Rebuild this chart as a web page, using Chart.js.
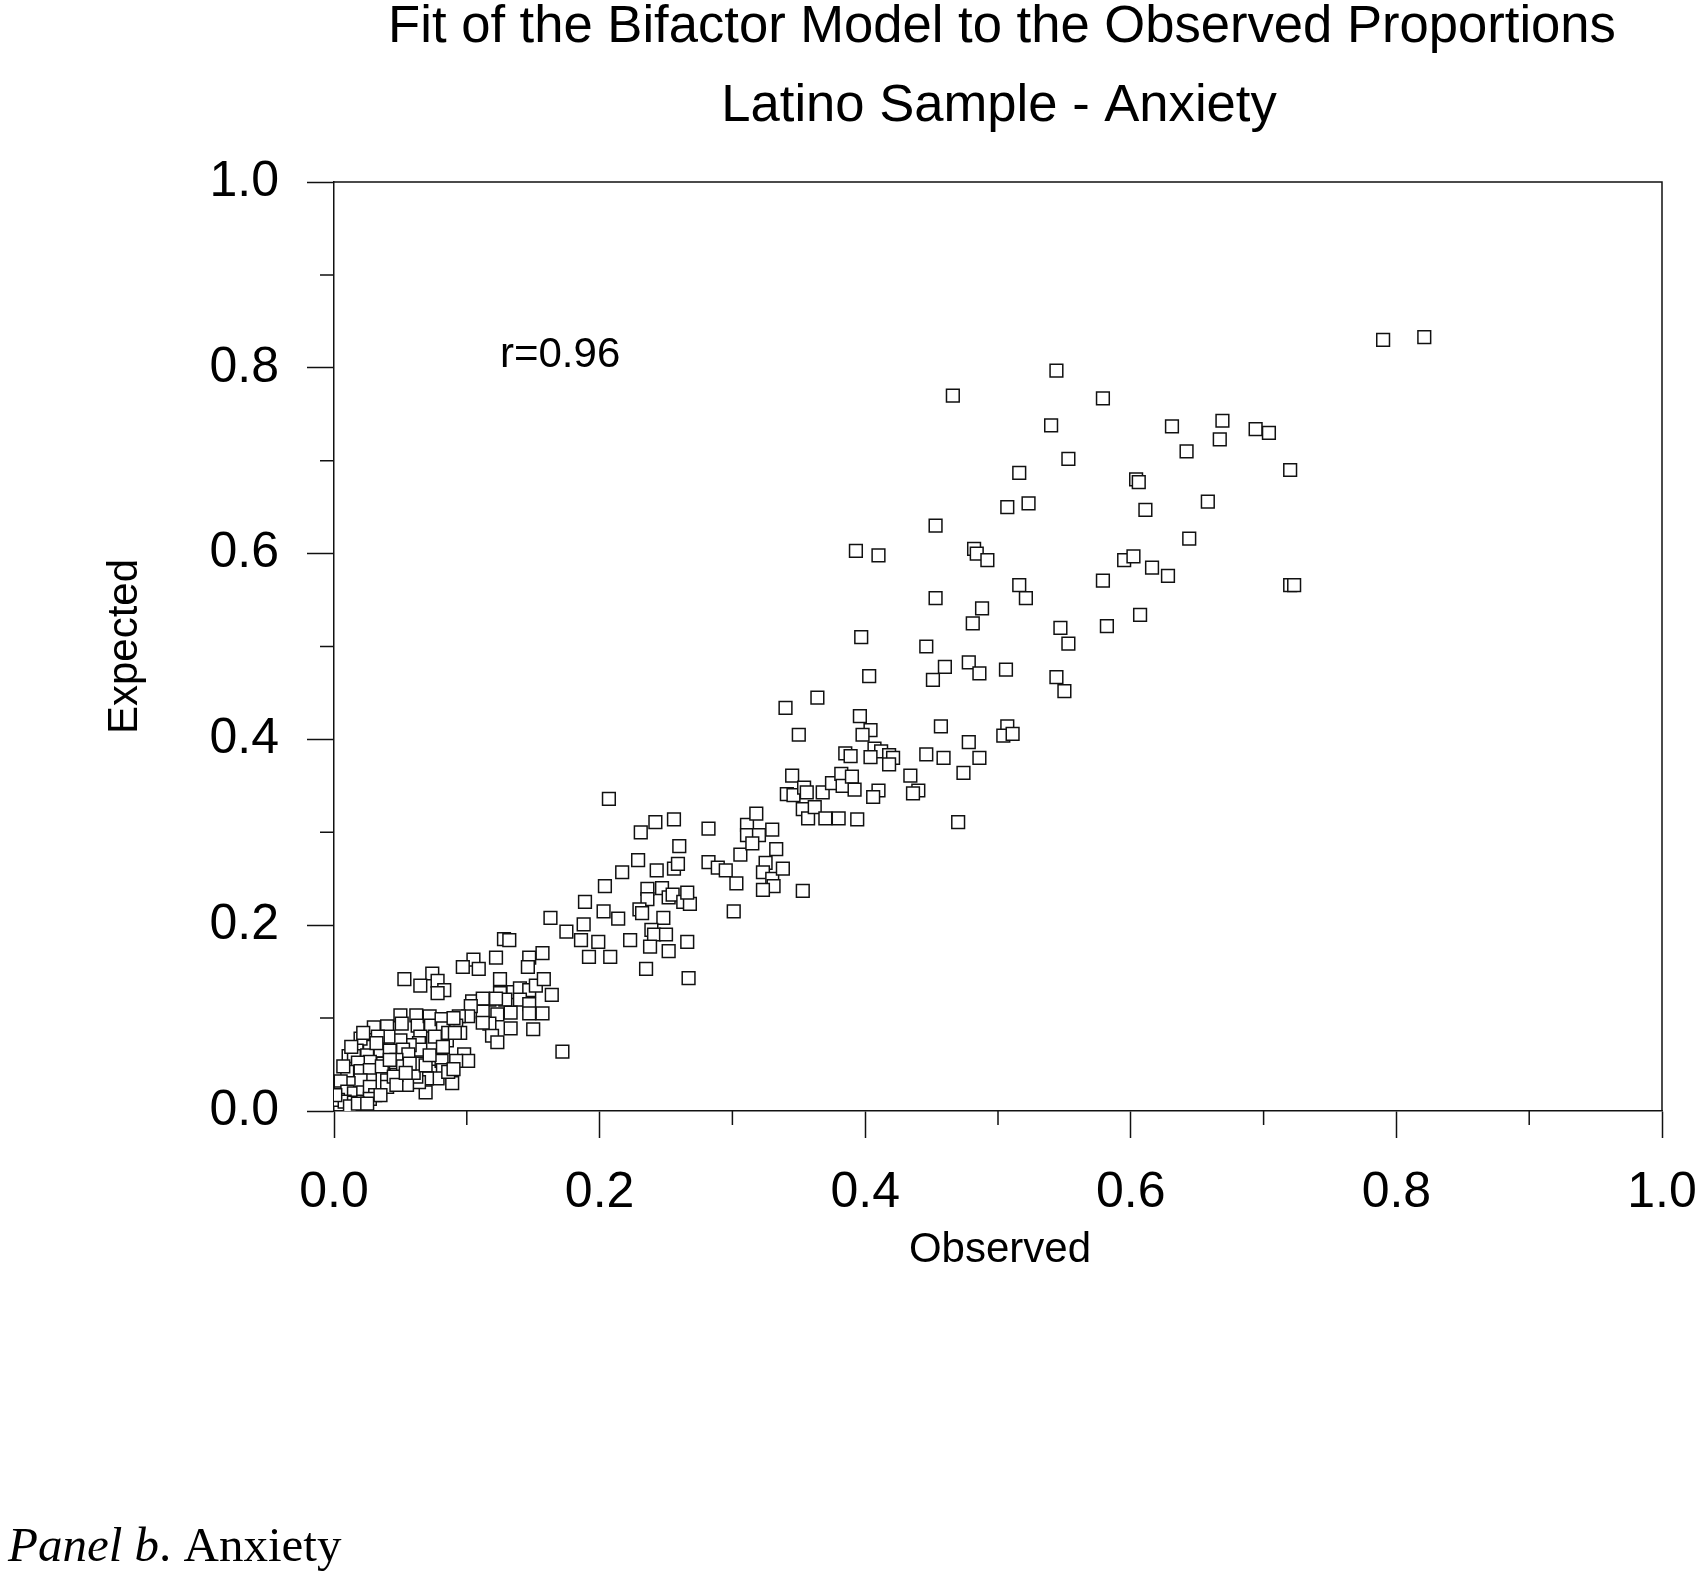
<!DOCTYPE html>
<html>
<head>
<meta charset="utf-8">
<script src="https://cdn.jsdelivr.net/npm/chart.js@4.4.1/dist/chart.umd.min.js"></script>
<style>
  html, body { margin: 0; padding: 0; background: #fff; overflow: hidden; }
  #wrap { position: relative; width: 1698px; height: 1576px; }
</style>
</head>
<body>
<div id="wrap"><canvas id="myChart"></canvas></div>
<script>
// observed proportion (x) and model-expected proportion (y), one entry per item response
let observed = [
  0.790, 0.821,
  0.544, 0.466, 0.579, 0.540, 0.631, 0.669, 0.667, 0.694, 0.704, 0.642, 0.553, 0.516, 0.720, 0.604, 0.606,
  0.507, 0.523, 0.611, 0.658, 0.453, 0.644, 0.393, 0.410, 0.482, 0.484, 0.492, 0.595, 0.602, 0.616, 0.628,
  0.516, 0.521, 0.579, 0.720, 0.723, 0.453, 0.488, 0.481, 0.607, 0.582, 0.547, 0.553, 0.397, 0.446,
  0.403, 0.460, 0.451, 0.478, 0.486, 0.506, 0.544, 0.550, 0.364, 0.340, 0.396, 0.350, 0.404, 0.398, 0.457,
  0.507, 0.504, 0.511, 0.478, 0.385, 0.389, 0.407, 0.412, 0.404, 0.418, 0.421, 0.418, 0.446, 0.459, 0.486,
  0.474, 0.434, 0.410, 0.406, 0.440, 0.436, 0.470,
  0.207, 0.231, 0.242, 0.256, 0.260, 0.282, 0.229, 0.217, 0.204, 0.189, 0.203, 0.214, 0.163, 0.188, 0.175,
  0.186, 0.199, 0.192, 0.208, 0.223, 0.243, 0.256, 0.259, 0.236, 0.236, 0.247, 0.252, 0.255, 0.263, 0.268,
  0.266, 0.230, 0.232, 0.248, 0.239, 0.241, 0.250, 0.238, 0.252, 0.266, 0.235, 0.267, 0.282, 0.289, 0.295,
  0.303, 0.301, 0.306, 0.311, 0.311, 0.318, 0.320, 0.315, 0.330, 0.333, 0.325, 0.323, 0.330, 0.338, 0.331,
  0.323, 0.353, 0.345, 0.341, 0.346, 0.354, 0.356, 0.353, 0.357, 0.362, 0.368, 0.370, 0.375, 0.382, 0.383,
  0.390, 0.392, 0.380, 0.394,
  0.128, 0.132, 0.122, 0.105, 0.109, 0.097, 0.147, 0.146, 0.053, 0.074, 0.078, 0.065, 0.083, 0.078, 0.125,
  0.135, 0.125, 0.129, 0.140, 0.147, 0.152, 0.117, 0.122, 0.104, 0.112, 0.140, 0.147, 0.147, 0.133, 0.150,
  0.123, 0.133, 0.117, 0.119, 0.123, 0.112, 0.112, 0.103, 0.101, 0.094, 0.092, 0.095, 0.089, 0.098, 0.101,
  0.075, 0.092, 0.081, 0.082, 0.078, 0.086, 0.090, 0.069, 0.070, 0.064, 0.062, 0.055, 0.060, 0.064, 0.069,
  0.157, 0.158, 0.164, 0.157, 0.172,
  0.030, 0.040, 0.050, 0.051, 0.062, 0.063, 0.072, 0.073, 0.081, 0.082, 0.090, 0.085, 0.076, 0.065, 0.064,
  0.065, 0.057, 0.050, 0.041, 0.033, 0.027, 0.020, 0.017, 0.011, 0.015, 0.025, 0.035, 0.042, 0.052, 0.056,
  0.047, 0.037, 0.027, 0.018, 0.010, 0.020, 0.027, 0.036, 0.040, 0.047, 0.052, 0.057, 0.027, 0.020, 0.011,
  0.005, 0.005, 0.010, 0.015, 0.022, 0.027, 0.031, 0.040, 0.045, 0.003, 0.008, 0.015, 0.022, 0.027, 0.012,
  0.018, 0.025, 0.035, 0.047, 0.054, 0.001, 0.007, 0.013, 0.022, 0.032, 0.042, 0.072, 0.082, 0.086, 0.091
];
let expected = [
  0.830, 0.833,
  0.797, 0.770, 0.767, 0.738, 0.737, 0.743, 0.723, 0.734, 0.730, 0.710, 0.702, 0.687, 0.690, 0.680, 0.677,
  0.650, 0.654, 0.647, 0.656, 0.630, 0.616, 0.603, 0.598, 0.605, 0.600, 0.593, 0.593, 0.597, 0.585, 0.576,
  0.566, 0.552, 0.571, 0.566, 0.566, 0.552, 0.541, 0.525, 0.534, 0.522, 0.520, 0.503, 0.510, 0.500,
  0.468, 0.478, 0.464, 0.483, 0.471, 0.475, 0.467, 0.452, 0.445, 0.434, 0.425, 0.405, 0.410, 0.405, 0.414,
  0.414, 0.404, 0.406, 0.397, 0.385, 0.382, 0.390, 0.387, 0.381, 0.383, 0.380, 0.373, 0.384, 0.380, 0.380,
  0.364, 0.361, 0.345, 0.338, 0.345, 0.342, 0.311,
  0.336, 0.300, 0.311, 0.314, 0.285, 0.304, 0.270, 0.257, 0.242, 0.225, 0.215, 0.207, 0.208, 0.201, 0.193,
  0.184, 0.182, 0.166, 0.166, 0.184, 0.259, 0.261, 0.266, 0.239, 0.228, 0.240, 0.230, 0.233, 0.225, 0.223,
  0.235, 0.217, 0.213, 0.208, 0.195, 0.190, 0.190, 0.177, 0.172, 0.182, 0.153, 0.143, 0.268, 0.262, 0.259,
  0.245, 0.215, 0.276, 0.308, 0.297, 0.320, 0.297, 0.288, 0.303, 0.282, 0.267, 0.257, 0.250, 0.261, 0.242,
  0.238, 0.237, 0.361, 0.341, 0.340, 0.348, 0.343, 0.325, 0.315, 0.327, 0.343, 0.315, 0.353, 0.363, 0.350,
  0.360, 0.346, 0.315, 0.314,
  0.185, 0.184, 0.165, 0.163, 0.153, 0.155, 0.165, 0.155, 0.142, 0.148, 0.140, 0.135, 0.130, 0.127, 0.142,
  0.128, 0.127, 0.120, 0.132, 0.130, 0.135, 0.120, 0.121, 0.118, 0.121, 0.120, 0.115, 0.105, 0.089, 0.088,
  0.104, 0.106, 0.094, 0.081, 0.074, 0.107, 0.095, 0.113, 0.102, 0.102, 0.092, 0.084, 0.030, 0.061, 0.054,
  0.056, 0.054, 0.054, 0.044, 0.035, 0.042, 0.045, 0.020, 0.035, 0.031, 0.037, 0.028, 0.041, 0.051, 0.049,
  0.170, 0.142, 0.125, 0.105, 0.064,
  0.090, 0.091, 0.103, 0.094, 0.103, 0.092, 0.102, 0.092, 0.099, 0.089, 0.100, 0.076, 0.080, 0.080, 0.073,
  0.066, 0.071, 0.076, 0.080, 0.080, 0.069, 0.078, 0.065, 0.059, 0.059, 0.060, 0.065, 0.065, 0.066, 0.061,
  0.055, 0.051, 0.053, 0.052, 0.042, 0.043, 0.044, 0.048, 0.033, 0.039, 0.048, 0.051, 0.033, 0.033, 0.030,
  0.032, 0.019, 0.021, 0.019, 0.020, 0.026, 0.017, 0.026, 0.037, 0.012, 0.010, 0.009, 0.010, 0.013, 0.005,
  0.008, 0.008, 0.017, 0.028, 0.041, 0.017, 0.048, 0.069, 0.084, 0.073, 0.055, 0.060, 0.069, 0.084, 0.084
];
let majorTicks = [0, 0.2, 0.4, 0.6, 0.8, 1.0];
let minorTicks = [0.1, 0.3, 0.5, 0.7, 0.9];
let titleLines = ["Fit of the Bifactor Model to the Observed Proportions", "Latino Sample - Anxiety"];
let corrLabel = "r=0.96";

let sans = "'Liberation Sans', Arial, sans-serif";
let serif = "'Liberation Serif', 'Times New Roman', serif";
let axisColor = "#111";

// top/right frame, minor ticks and the free text around the plot
let decor = {
  id: "decor",
  afterDraw(chart) {
    let { ctx, chartArea: area, scales } = chart;
    let cx = (area.left + area.right) / 2;
    ctx.save();
    ctx.strokeStyle = axisColor;
    ctx.lineWidth = 1.5;
    ctx.beginPath();
    ctx.moveTo(area.left, area.top);
    ctx.lineTo(area.right, area.top);
    ctx.lineTo(area.right, area.bottom);
    minorTicks.forEach((v) => {
      let px = scales.x.getPixelForValue(v);
      ctx.moveTo(px, area.bottom);
      ctx.lineTo(px, area.bottom + 14);
      let py = scales.y.getPixelForValue(v);
      ctx.moveTo(area.left, py);
      ctx.lineTo(area.left - 14, py);
    });
    ctx.stroke();

    ctx.fillStyle = "#000";
    ctx.textBaseline = "alphabetic";
    ctx.textAlign = "center";
    ctx.font = "52.6px " + sans;
    ctx.fillText(titleLines[0], cx + 4, 42);
    ctx.fillText(titleLines[1], cx + 1, 121);

    ctx.font = "42px " + sans;
    ctx.fillText("Observed", cx + 2, 1262);
    ctx.textAlign = "left";
    ctx.fillText(corrLabel, 500, 367);

    ctx.save();
    ctx.translate(137, (area.top + area.bottom) / 2);
    ctx.rotate(-Math.PI / 2);
    ctx.textAlign = "center";
    ctx.fillText("Expected", 0, 0);
    ctx.restore();

    ctx.textAlign = "left";
    ctx.font = "italic 49px " + serif;
    ctx.fillText("Panel b", 8, 1561);
    let w = ctx.measureText("Panel b").width;
    ctx.font = "49px " + serif;
    ctx.fillText(". Anxiety", 8 + w, 1561);
    ctx.restore();
  },
};

let points = observed.map((v, i) => ({ x: v, y: expected[i] }));
let tickFont = { family: sans, size: 50 };

let ctx = document.getElementById("myChart").getContext("2d");
let myChart = new Chart(ctx, {
  type: "scatter",
  data: {
    datasets: [
      {
        data: points,
        pointStyle: "rect",
        pointRadius: 9,
        backgroundColor: "#fff",
        borderColor: "#111",
        borderWidth: 1.5,
      },
    ],
  },
  options: {
    responsive: true,
    maintainAspectRatio: false,
    animation: false,
    layout: { padding: { top: 182, right: 36, left: 0, bottom: 0 } },
    plugins: {
      legend: { display: false },
      tooltip: { enabled: false },
    },
    scales: {
      x: {
        type: "linear",
        min: 0,
        max: 1,
        afterFit: (s) => {
          s.height = 465;
          s.paddingLeft = 0;
          s.paddingRight = 0;
        },
        afterBuildTicks: (s) => { s.ticks = majorTicks.map((v) => ({ value: v })); },
        ticks: {
          callback: (v) => v.toFixed(1),
          color: "#000",
          font: tickFont,
          padding: 25,
          maxRotation: 0,
          autoSkip: false,
        },
        grid: { drawOnChartArea: false, tickLength: 27, tickColor: axisColor, tickWidth: 1.5 },
        border: { color: axisColor, width: 1.5 },
      },
      y: {
        type: "linear",
        min: 0,
        max: 1,
        afterFit: (s) => {
          s.width = 334;
          s.paddingTop = 0;
          s.paddingBottom = 0;
        },
        afterBuildTicks: (s) => { s.ticks = majorTicks.map((v) => ({ value: v })); },
        ticks: {
          callback: (v) => v.toFixed(1),
          color: "#000",
          font: tickFont,
          padding: 28,
          autoSkip: false,
        },
        grid: { drawOnChartArea: false, tickLength: 27, tickColor: axisColor, tickWidth: 1.5 },
        border: { color: axisColor, width: 1.5 },
      },
    },
  },
  plugins: [decor],
});
</script>
</body>
</html>
